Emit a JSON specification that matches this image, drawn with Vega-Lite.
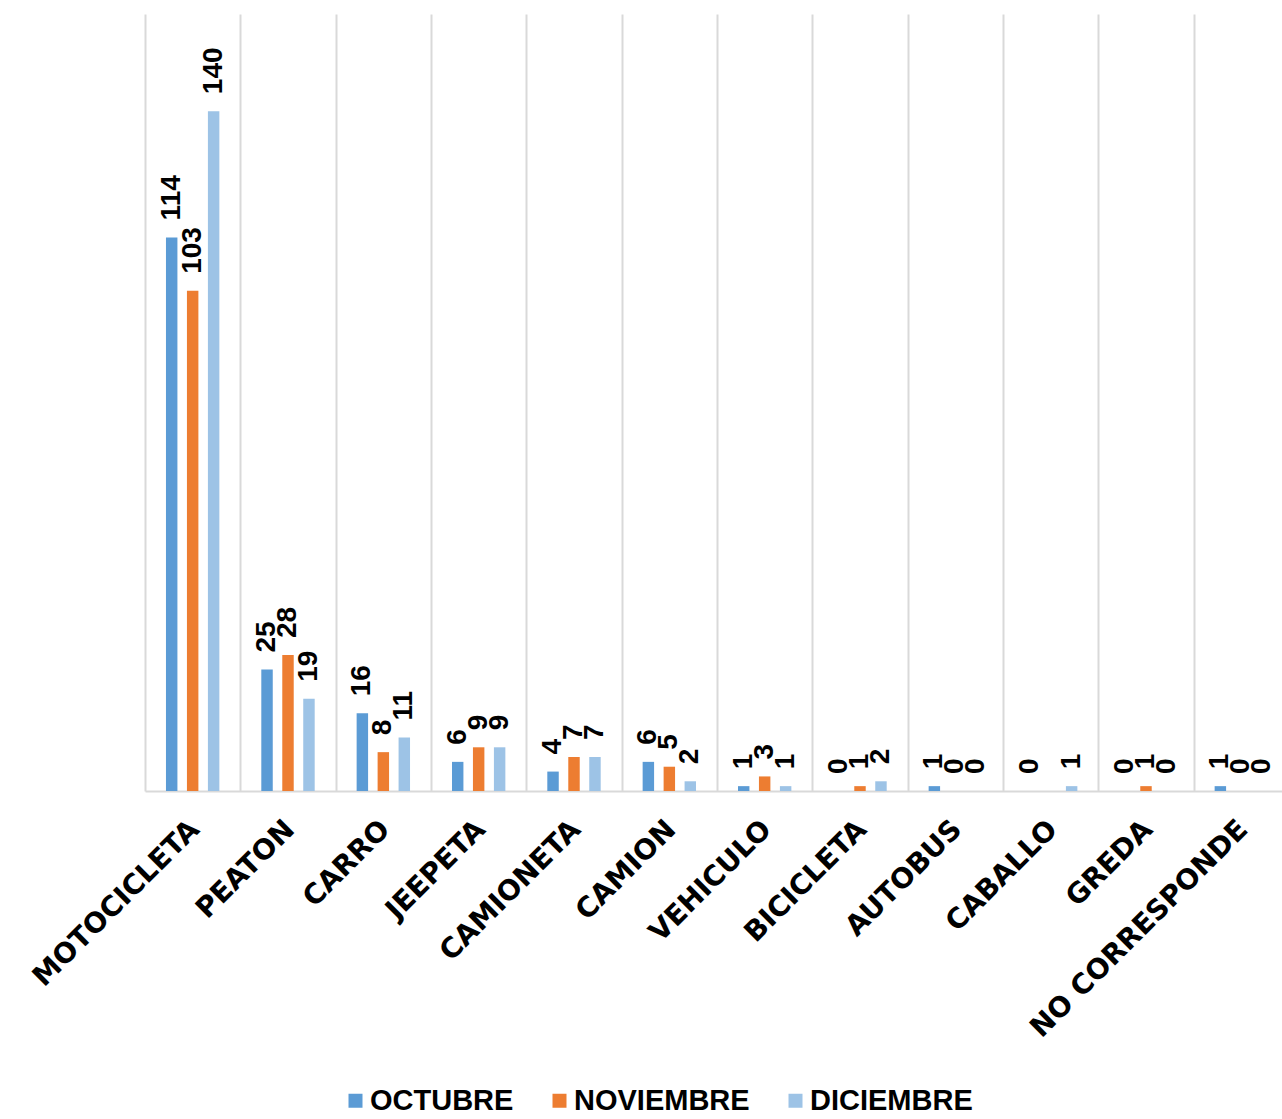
{
  "$schema": "https://vega.github.io/schema/vega-lite/v6.json",
  "autosize": {"type": "none"},
  "padding": {"left": 145, "top": 14, "right": 0, "bottom": 328},
  "width": 1144,
  "height": 777,
  "background": "white",
  "config": {"view": {"stroke": null}},
  "data": {
    "values": [
      {"cat": "MOTOCICLETA", "mes": "OCTUBRE", "val": 114},
      {"cat": "MOTOCICLETA", "mes": "NOVIEMBRE", "val": 103},
      {"cat": "MOTOCICLETA", "mes": "DICIEMBRE", "val": 140},
      {"cat": "PEATON", "mes": "OCTUBRE", "val": 25},
      {"cat": "PEATON", "mes": "NOVIEMBRE", "val": 28},
      {"cat": "PEATON", "mes": "DICIEMBRE", "val": 19},
      {"cat": "CARRO", "mes": "OCTUBRE", "val": 16},
      {"cat": "CARRO", "mes": "NOVIEMBRE", "val": 8},
      {"cat": "CARRO", "mes": "DICIEMBRE", "val": 11},
      {"cat": "JEEPETA", "mes": "OCTUBRE", "val": 6},
      {"cat": "JEEPETA", "mes": "NOVIEMBRE", "val": 9},
      {"cat": "JEEPETA", "mes": "DICIEMBRE", "val": 9},
      {"cat": "CAMIONETA", "mes": "OCTUBRE", "val": 4},
      {"cat": "CAMIONETA", "mes": "NOVIEMBRE", "val": 7},
      {"cat": "CAMIONETA", "mes": "DICIEMBRE", "val": 7},
      {"cat": "CAMION", "mes": "OCTUBRE", "val": 6},
      {"cat": "CAMION", "mes": "NOVIEMBRE", "val": 5},
      {"cat": "CAMION", "mes": "DICIEMBRE", "val": 2},
      {"cat": "VEHICULO", "mes": "OCTUBRE", "val": 1},
      {"cat": "VEHICULO", "mes": "NOVIEMBRE", "val": 3},
      {"cat": "VEHICULO", "mes": "DICIEMBRE", "val": 1},
      {"cat": "BICICLETA", "mes": "OCTUBRE", "val": 0},
      {"cat": "BICICLETA", "mes": "NOVIEMBRE", "val": 1},
      {"cat": "BICICLETA", "mes": "DICIEMBRE", "val": 2},
      {"cat": "AUTOBUS", "mes": "OCTUBRE", "val": 1},
      {"cat": "AUTOBUS", "mes": "NOVIEMBRE", "val": 0},
      {"cat": "AUTOBUS", "mes": "DICIEMBRE", "val": 0},
      {"cat": "CABALLO", "mes": "OCTUBRE", "val": 0},
      {"cat": "CABALLO", "mes": "DICIEMBRE", "val": 1},
      {"cat": "GREDA", "mes": "OCTUBRE", "val": 0},
      {"cat": "GREDA", "mes": "NOVIEMBRE", "val": 1},
      {"cat": "GREDA", "mes": "DICIEMBRE", "val": 0},
      {"cat": "NO CORRESPONDE", "mes": "OCTUBRE", "val": 1},
      {"cat": "NO CORRESPONDE", "mes": "NOVIEMBRE", "val": 0},
      {"cat": "NO CORRESPONDE", "mes": "DICIEMBRE", "val": 0}
    ]
  },
  "encoding": {
    "x": {
      "field": "cat",
      "type": "nominal",
      "sort": ["MOTOCICLETA", "PEATON", "CARRO", "JEEPETA", "CAMIONETA", "CAMION", "VEHICULO", "BICICLETA", "AUTOBUS", "CABALLO", "GREDA", "NO CORRESPONDE"],
      "scale": {"paddingInner": 0, "paddingOuter": 0},
      "axis": {
        "title": null,
        "grid": true,
        "tickBand": "extent",
        "gridColor": "#d9d9d9",
        "gridWidth": 2,
        "ticks": false,
        "domainColor": "#d9d9d9",
        "domainWidth": 2,
        "labelAngle": -45,
        "labelAlign": "right",
        "labelBaseline": "top",
        "labelPadding": 24,
        "labelOffset": -8,
        "labelFont": "DejaVu Sans",
        "labelFontWeight": "bold",
        "labelFontSize": 28,
        "labelColor": "#000000",
        "labelOverlap": false,
        "labelLimit": 0
      }
    },
    "xOffset": {
      "field": "mes",
      "type": "nominal",
      "sort": ["OCTUBRE", "NOVIEMBRE", "DICIEMBRE"],
      "scale": {"paddingInner": 0.454, "paddingOuter": 1.158}
    },
    "y": {
      "field": "val",
      "type": "quantitative",
      "scale": {"domain": [0, 160], "nice": false},
      "axis": null
    }
  },
  "layer": [
    {
      "mark": {"type": "bar"},
      "encoding": {
        "color": {
          "field": "mes",
          "type": "nominal",
          "sort": ["OCTUBRE", "NOVIEMBRE", "DICIEMBRE"],
          "scale": {"domain": ["OCTUBRE", "NOVIEMBRE", "DICIEMBRE"], "range": ["#5B9BD5", "#ED7D31", "#9DC3E6"]},
          "legend": {
            "title": null,
            "orient": "none",
            "direction": "horizontal",
            "legendX": 196,
            "legendY": 1072,
            "symbolType": "square",
            "symbolSize": 196,
            "symbolStrokeWidth": 0,
            "labelFont": "Liberation Sans",
            "labelFontWeight": "bold",
            "labelFontSize": 29,
            "labelColor": "#000000",
            "labelOffset": 0,
            "columnPadding": 31,
            "labelLimit": 0
          }
        }
      }
    },
    {
      "mark": {
        "type": "text",
        "angle": 270,
        "align": "left",
        "baseline": "middle",
        "dx": 17,
        "font": "Liberation Sans",
        "fontWeight": "bold",
        "fontSize": 28,
        "color": "#000000"
      },
      "encoding": {
        "text": {"field": "val", "type": "quantitative"}
      }
    }
  ]
}
